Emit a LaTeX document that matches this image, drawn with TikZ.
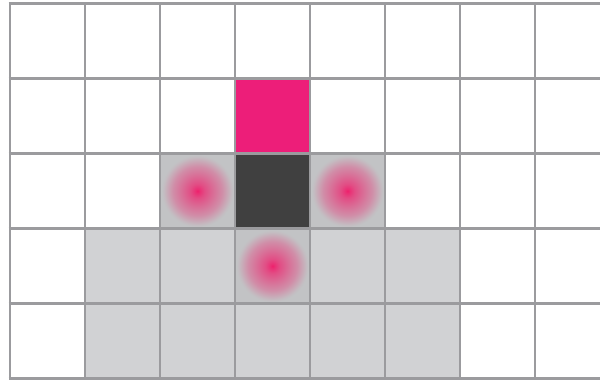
\documentclass[tikz,border=0pt]{standalone}
\usetikzlibrary{shadings}
\definecolor{gridgray}{RGB}{155,155,158}
\definecolor{midgray}{RGB}{194,195,197}
\definecolor{lightgray}{RGB}{209,210,212}
\definecolor{hotpink}{RGB}{237,30,121}
\definecolor{darkcell}{RGB}{64,64,64}
\definecolor{glowpink}{RGB}{238,32,108}
\pgfdeclareradialshading{glowshade}{\pgfpoint{0bp}{0bp}}{%
  color(0bp)=(glowpink);
  color(1.5bp)=(glowpink!90!midgray);
  color(5bp)=(glowpink!72!midgray);
  color(11bp)=(glowpink!52!midgray);
  color(17bp)=(glowpink!33!midgray);
  color(21bp)=(glowpink!15!midgray);
  color(23.5bp)=(glowpink!4!midgray);
  color(25bp)=(midgray);
  color(50bp)=(midgray)}
\tikzset{
  cell/.style={minimum width=75pt,minimum height=75pt,inner sep=0pt,outer sep=0pt,draw=none},
  glow/.style={circle,minimum size=72pt,inner sep=0pt,draw=none,shading=glowshade},
  gridline/.style={draw=gridgray,line width=2.6pt}
}
\begin{document}
\begin{tikzpicture}[x=1pt,y=-1pt]
\useasboundingbox (0,0) rectangle (600,380);
\fill[white] (0,0) rectangle (600,380);
% light gray block
\fill[lightgray] (85,228.5) rectangle (460,378.5);
% cells
\node[cell,fill=hotpink] (pink) at (272.5,116) {};
\node[cell,fill=darkcell] (dark) at (272.5,191) {};
\node[cell,fill=midgray] (left) at (197.5,191) {};
\node[cell,fill=midgray] (right) at (347.5,191) {};
\node[cell,fill=midgray] (below) at (272.5,266) {};
% glows
\node[glow] (gl) at (left.center) {};
\node[glow] (gr) at (right.center) {};
\node[glow] (gb) at (below.center) {};
% grid
\foreach \x in {10,85,...,610} \draw[gridline] (\x,2.2) -- (\x,380);
\foreach \y in {3.5,78.5,...,380} \draw[gridline] (8.7,\y) -- (610,\y);
\end{tikzpicture}
\end{document}
